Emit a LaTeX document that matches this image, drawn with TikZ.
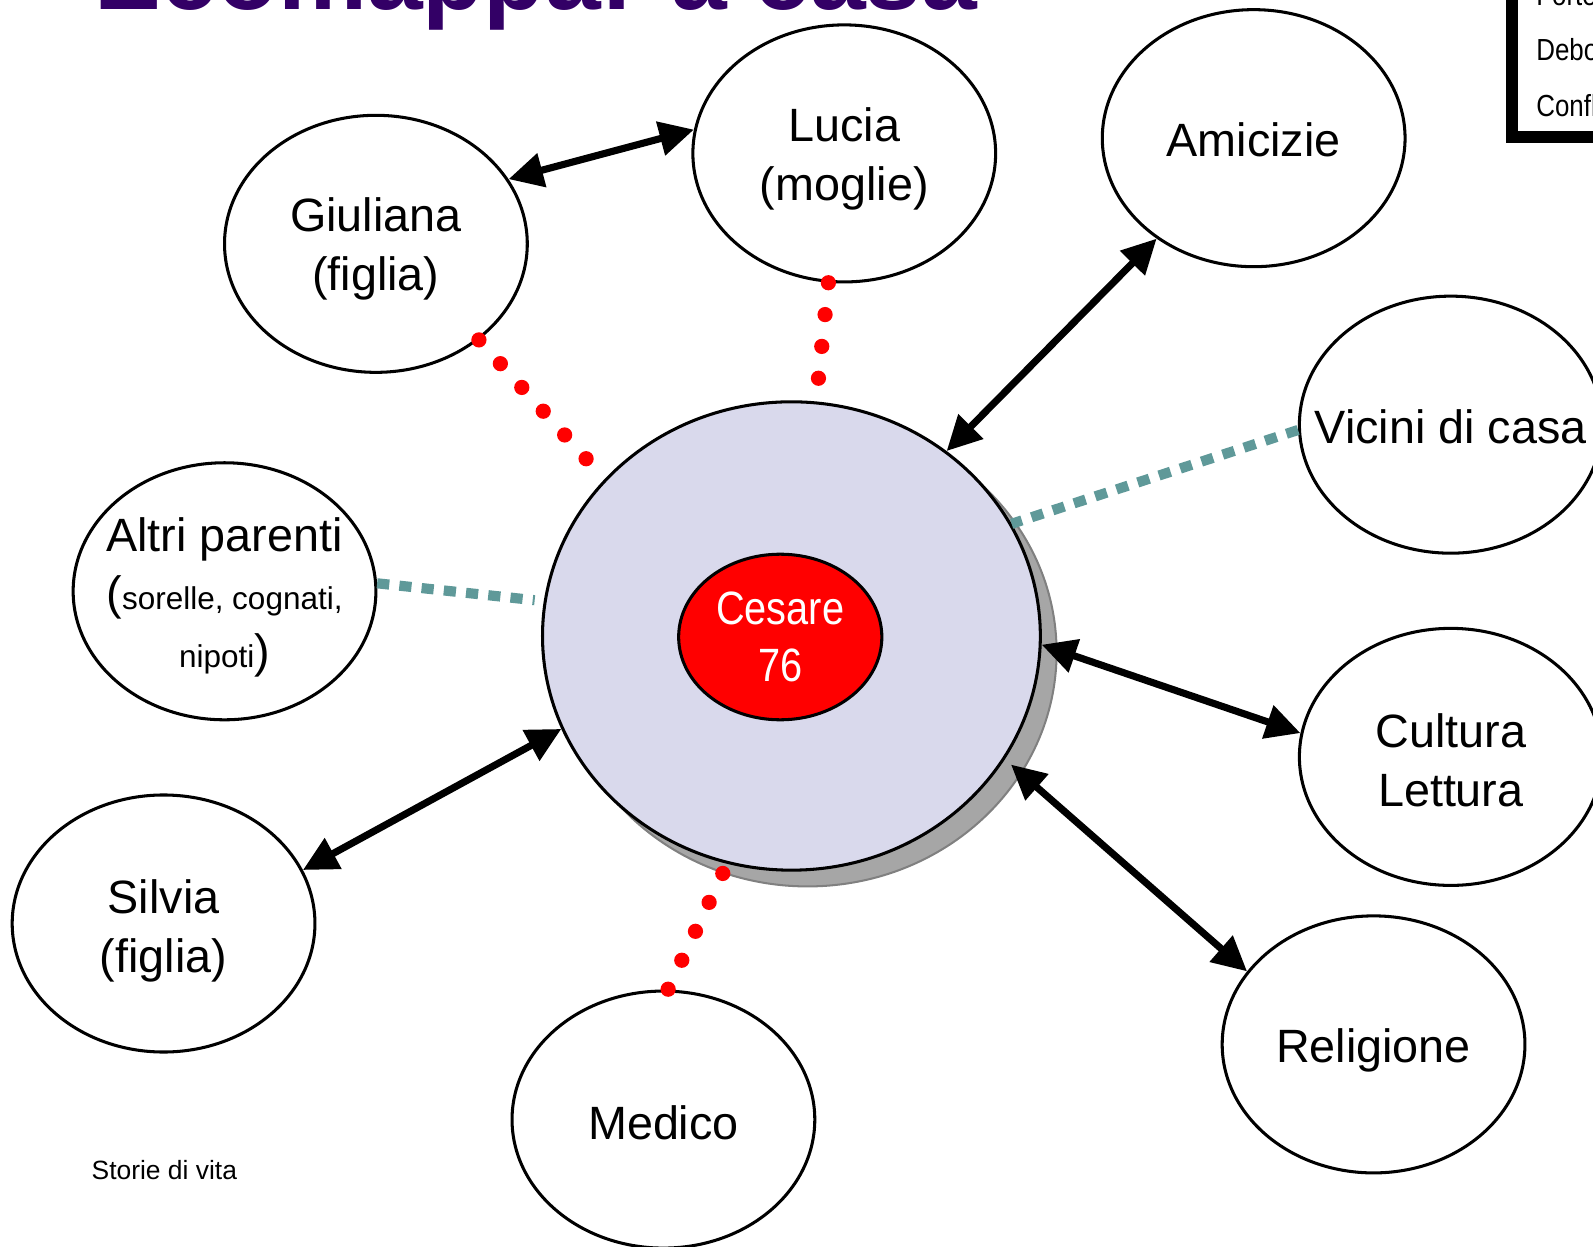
\documentclass[tikz,border=0pt]{standalone}
\usepackage{fontspec}
\setmainfont{Liberation Sans}
\newfontfamily\narrowfont[FakeStretch=0.85]{Liberation Sans}
\usetikzlibrary{shapes.geometric,arrows.meta}
\definecolor{titlepurple}{HTML}{330066}
\definecolor{hubfill}{HTML}{D9D9EC}
\definecolor{shadowfill}{HTML}{A6A6A6}
\definecolor{shadowline}{HTML}{808080}
\definecolor{tealdash}{HTML}{5F9999}
\definecolor{dotred}{HTML}{FF0000}
\begin{document}
\begin{tikzpicture}[x=1pt,y=-1pt,
  bub/.style={ellipse, draw=black, line width=3pt, fill=white, inner sep=0pt,
    minimum width=298pt, minimum height=253pt},
  txt/.style={align=center, inner sep=0pt,
    font=\fontsize{46}{58}\selectfont},
  strong/.style={line width=7pt,
    arrows={Triangle[length=34pt,width=33pt]-Triangle[length=34pt,width=33pt]}},
  reddots/.style={draw=dotred, line width=15pt, line cap=round, dash pattern=on 0pt off 31.5pt},
  tealline/.style={draw=tealdash, line width=10pt, dash pattern=on 12pt off 10pt},
  legendtxt/.style={anchor=base west, inner sep=0pt, font=\narrowfont\fontsize{30}{36}\selectfont}
]
\useasboundingbox (0,0) rectangle (1568,1227.4);
\clip (0,0) rectangle (1568,1227.4);

% title (cut by the top edge)
\node[anchor=base west, inner sep=0pt, text=titlepurple,
  font=\bfseries\fontsize{98.5}{98.5}\selectfont] (title) at (93,9) {Ecomappa: a casa};

% legend box (cut)
\node[draw=black, line width=12pt, inner sep=0pt, outer sep=0pt,
  minimum width=240pt, minimum height=220pt, anchor=south west] (legend) at (1488,135) {};
\node[legendtxt] (lg1) at (1512,5) {Forte};
\node[legendtxt] (lg2) at (1512,60) {Debole};
\node[legendtxt] (lg3) at (1512,115) {Conflittuale};

% central hub with shadow
\node[ellipse, fill=shadowfill, draw=shadowline, line width=2pt, inner sep=0pt,
  minimum width=490pt, minimum height=461pt] (shadow) at (795,642) {};
\node[ellipse, fill=hubfill, draw=black, line width=3pt, inner sep=0pt,
  minimum width=490pt, minimum height=461pt] (hub) at (779,626) {};
\node[ellipse, fill=red, draw=black, line width=3pt, inner sep=0pt,
  minimum width=200pt, minimum height=163pt, text=white, align=center,
  font=\narrowfont\fontsize{46}{56}\selectfont] (cesare) at (768,627) {Cesare\\76};

% surrounding bubbles
\node[bub] (lucia) at (831,151) {};
\node[txt, yshift=-5pt] (luciatxt) at (lucia.center) {Lucia\\(moglie)};
\node[bub] (giuliana) at (370,240) {};
\node[txt, yshift=-5pt] (giulianatxt) at (giuliana.center) {Giuliana\\(figlia)};
\node[bub] (amicizie) at (1234,136) {};
\node[txt, yshift=-2pt] (amiciziatxt) at (amicizie.center) {Amicizie};
\node[bub] (vicini) at (1428,418) {};
\node[txt, yshift=-2pt] (vicinitxt) at (vicini.center) {Vicini di casa};
\node[bub] (altri) at (221,582) {};
\node[align=center, inner sep=0pt, font=\fontsize{46}{57}\selectfont] (altritxt) at (221,588)
  {Altri parenti\\({\fontsize{31}{57}\selectfont sorelle, cognati,}\\{\fontsize{31}{57}\selectfont nipoti})};
\node[bub] (cultura) at (1428,745) {};
\node[txt, yshift=-3pt] (culturatxt) at (cultura.center) {Cultura\\Lettura};
\node[bub] (silvia) at (161,909) {};
\node[txt, yshift=-7pt] (silviatxt) at (silvia.center) {Silvia\\(figlia)};
\node[bub] (medico) at (653,1102) {};
\node[txt, yshift=-3pt] (medicotxt) at (medico.center) {Medico};
\node[bub] (religione) at (1352,1028) {};
\node[txt, yshift=-6pt] (religionetxt) at (religione.center) {Religione};

% strong links
\draw[strong] (giuliana.26.7) -- (lucia.171);
\draw[strong] (amicizie.226.8) -- (hub.50);
\draw[strong] (hub.-2) -- (cultura.171);
\draw[strong, shorten <=8pt] (hub.-30.7) -- (religione.150.5);
\draw[strong] (hub.202.6) -- (silvia.21);

% weak (red dotted)
\draw[reddots] (lucia.263.7) -- (hub.84.8);
\draw[reddots] (giuliana.-43) -- (hub.140.5);
\draw[reddots] (shadow.249) -- (medico.88.7);

% teal dashed
\draw[tealline, shorten >=9pt] (altri.3) -- (hub.172);
\draw[tealline] (vicini.182.7) -- (hub.27);

% footer
\node[anchor=base west, inner sep=0pt, font=\fontsize{26}{30}\selectfont] (footer) at (90,1161) {Storie di vita};
\end{tikzpicture}
\end{document}
